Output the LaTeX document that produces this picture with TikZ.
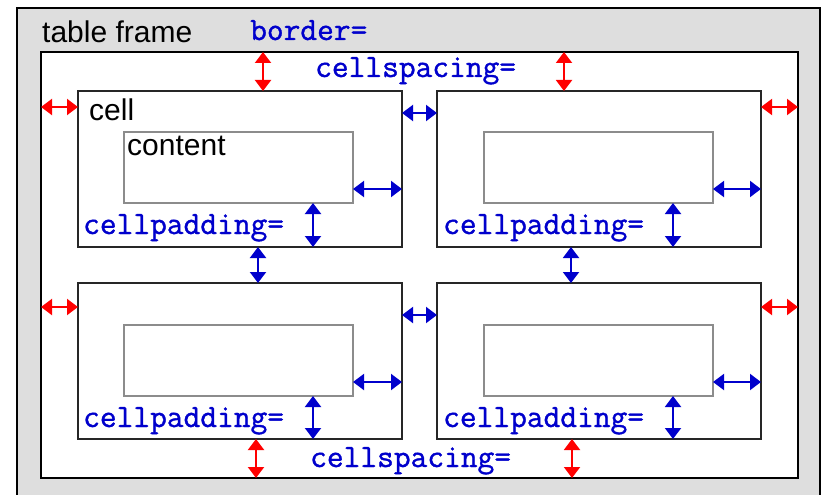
\documentclass[tikz,border=0pt]{standalone}
\usepackage{fontspec}
\setmainfont{Liberation Sans}
\newfontfamily\monob[FakeBold=1.1]{Latin Modern Mono}
\usetikzlibrary{arrows.meta}
\definecolor{mblue}{RGB}{0,0,204}
\definecolor{mred}{RGB}{255,0,0}
\definecolor{framegrey}{RGB}{222,222,222}
\definecolor{contgrey}{RGB}{140,140,140}
\tikzset{
  boxbase/.style={rectangle, anchor=north west, outer sep=0pt, inner sep=0pt, fill=white},
  tblbox/.style={boxbase, draw=black, line width=2pt, minimum width=757pt, minimum height=426pt},
  cellbox/.style={boxbase, draw=black!85, line width=2pt, minimum width=324pt, minimum height=156pt},
  contbox/.style={boxbase, draw=contgrey, line width=2pt, minimum width=229pt, minimum height=71pt},
  sanslbl/.style={anchor=base west, inner sep=0pt, font=\fontsize{30}{36}\selectfont},
  monolbl/.style={anchor=base west, inner sep=0pt, text=mblue, font=\fontsize{32.5}{38}\selectfont\monob},
  arrbase/.style={line width=2pt, {Triangle[width=16pt,length=11pt]}-{Triangle[width=16pt,length=11pt]}},
  redarr/.style={arrbase, draw=mred, fill=mred},
  bluearr/.style={arrbase, draw=mblue, fill=mblue},
}
\begin{document}
\begin{tikzpicture}[x=1pt,y=-1pt]
\useasboundingbox (0,0) rectangle (825,495);
% outer table frame
\fill[framegrey] (17,8) rectangle (820,500);
\draw[black, line width=2pt] (17,500) -- (17,8) -- (820,8) -- (820,500);
% table
\node[tblbox] (tbl) at (41,52) {};
% cells
\node[cellbox] (c11) at (78,91) {};
\node[cellbox] (c12) at (437,91) {};
\node[cellbox] (c21) at (78,283) {};
\node[cellbox] (c22) at (437,283) {};
% contents
\node[contbox] (k11) at (124,132) {};
\node[contbox] (k12) at (484,132) {};
\node[contbox] (k21) at (124,325) {};
\node[contbox] (k22) at (484,325) {};
% labels
\node[sanslbl] (ltf) at (42,43) {table frame};
\node[sanslbl] (lcell) at (89,121) {cell};
\node[sanslbl] (lcont) at (127,155) {content};
\node[monolbl] (lborder) at (250,40) {border=};
\node[monolbl] (lcs1) at (315,77) {cellspacing=};
\node[monolbl] (lcs2) at (310,467) {cellspacing=};
\node[monolbl] (lcp11) at (83,234) {cellpadding=};
\node[monolbl] (lcp12) at (443,234) {cellpadding=};
\node[monolbl] (lcp21) at (83,427) {cellpadding=};
\node[monolbl] (lcp22) at (443,427) {cellpadding=};
% cellspacing arrows (red): table to cells
\draw[redarr] (tbl.north -| 263,0) -- (c11.north -| 263,0);
\draw[redarr] (tbl.north -| 564,0) -- (c12.north -| 564,0);
\draw[redarr] (tbl.west |- 0,107) -- (c11.west |- 0,107);
\draw[redarr] (c12.east |- 0,107) -- (tbl.east |- 0,107);
\draw[redarr] (tbl.west |- 0,307) -- (c21.west |- 0,307);
\draw[redarr] (c22.east |- 0,307) -- (tbl.east |- 0,307);
\draw[redarr] (c21.south -| 256,0) -- (tbl.south -| 256,0);
\draw[redarr] (c22.south -| 572,0) -- (tbl.south -| 572,0);
% cellspacing arrows (blue): between cells
\draw[bluearr] (c11.east |- 0,113) -- (c12.west |- 0,113);
\draw[bluearr] (c21.east |- 0,315) -- (c22.west |- 0,315);
\draw[bluearr] (c11.south -| 258,0) -- (c21.north -| 258,0);
\draw[bluearr] (c12.south -| 571,0) -- (c22.north -| 571,0);
% cellpadding arrows (blue): content to cell
\draw[bluearr] (k11.east |- 0,189) -- (c11.east |- 0,189);
\draw[bluearr] (k12.east |- 0,189) -- (c12.east |- 0,189);
\draw[bluearr] (k21.east |- 0,382) -- (c21.east |- 0,382);
\draw[bluearr] (k22.east |- 0,382) -- (c22.east |- 0,382);
\draw[bluearr] (k11.south -| 313,0) -- (c11.south -| 313,0);
\draw[bluearr] (k12.south -| 673,0) -- (c12.south -| 673,0);
\draw[bluearr] (k21.south -| 313,0) -- (c21.south -| 313,0);
\draw[bluearr] (k22.south -| 673,0) -- (c22.south -| 673,0);
\end{tikzpicture}
\end{document}
